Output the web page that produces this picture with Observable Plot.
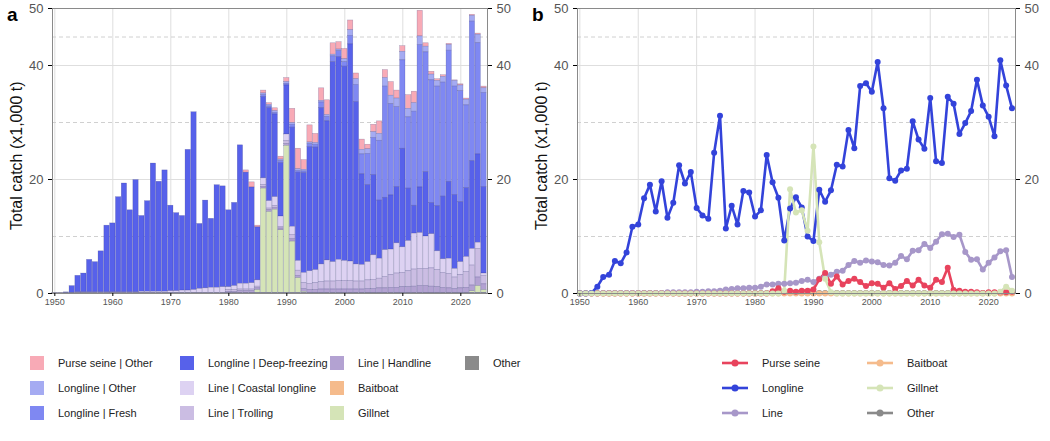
<!DOCTYPE html>
<html><head><meta charset="utf-8">
<script src="https://cdn.jsdelivr.net/npm/d3@7"></script>
<script src="https://cdn.jsdelivr.net/npm/@observablehq/plot@0.6"></script>
<style>
body{margin:0;background:#fff;font-family:Arial,"Liberation Sans",sans-serif;}
#wrap{position:relative;width:1050px;height:441px;}
.panel{position:absolute;top:0;}
.tag{position:absolute;font-weight:bold;font-size:19px;color:#000;}
.ylab{position:absolute;font-size:16px;color:#111;transform:rotate(-90deg);transform-origin:left top;white-space:nowrap;}
.leg{position:absolute;font-size:11px;color:#222;display:flex;align-items:center;white-space:nowrap;}
.sw{width:14px;height:14px;margin-right:14px;}
</style></head><body>
<div id="wrap"></div>
<script>
const years = d3.range(1950, 2025);
const longline = [0,0,0.1,1.2,2.9,3.3,5.7,5.3,7.2,11.7,
12.1,16.7,19.1,14.4,19.7,13.3,15.9,22.5,19.3,21.3,
15.0,13.7,13.1,24.7,31.2,11.4,15.4,12.1,18.0,17.7,
13.5,14.6,24.3,19.5,16.8,9.3,14.9,16.9,15.1,10.0,
9.2,18.2,16.1,18.1,22.6,22.3,28.7,25.5,36.4,36.9,
35.4,40.6,32.5,20.2,19.8,21.6,21.9,30.2,27.0,25.4,
34.3,23.2,22.9,34.5,33.3,28.0,29.9,32.0,37.5,33.0,
31.0,27.6,40.9,36.5,32.5];
const longlineFresh = [0,0,0,0,0,0,0,0,0,0, 0,0,0,0,0,0,0,0,0,0, 0,0,0,0,0,0,0,0,0,0, 0,0,0,0,0,
0,0.3,0.3,0.3,0.3,0.3,0.5,0.3,0.3,0.5,0.5,1.0,0.8,1.0,1.0,0.8,1.5,3.0,3.5,5.5,6.5,10.5,19.5,16.0,14.0,15.5,12.5,16.5,25.0,21.0,21.5,21.0,20.0,23.0,19.0,19.5,14.5,24.5,19.5,16.5];
const longlineOther = [0,0,0,0,0,0,0,0,0,0, 0,0,0,0,0,0,0,0,0,0, 0,0,0,0,0,0,0,0,0,0, 0,0,0,0,0,0,
0.3,0.3,0.3,0.3,0.3,0.3,0.3,0.3,0.3,0.3,0.3,0.3,0.3,0.3,
0.5,1.0,1.0,0.8,0.8,1.0,1.2,
1.5,1.5,1.5,1.5,1.5,1.5,1.5,1.0,1.0,1.0,1.0,1.0,1.0,1.0,1.0,1.0,1.5,0.8];
const line = [0,0,0,0,0.1,0.1,0.1,0.1,0.1,0.1,
0.1,0.1,0.1,0.1,0.1,0.2,0.2,0.2,0.2,0.2,
0.3,0.3,0.4,0.4,0.5,0.7,0.8,0.9,0.9,1.0,
1.0,1.2,1.6,1.6,1.7,1.7,1.8,1.9,2.2,2.4,
2.0,2.6,3.0,3.3,3.8,4.0,5.0,5.7,5.4,5.8,
5.6,5.5,5.0,4.9,5.4,6.6,6.0,7.5,7.6,8.7,
8.0,9.1,10.4,10.5,9.9,10.3,7.3,5.9,6.0,4.2,
5.4,6.3,7.4,7.6,2.9];
const lineHandline = [0,0,0,0,0,0,0,0,0,0, 0,0,0,0,0,0,0,0,0,0, 0,0,0,0,0,0,0,0,0,0,
0.2,0.2,0.3,0.3,0.3,0.3,0.3,0.3,0.3,0.3,
0.3,0.4,0.4,0.5,0.5,0.5,0.6,0.6,0.6,0.6,
0.6,0.6,0.6,0.6,0.7,0.7,0.8,0.8,0.9,0.9,
1.0,1.0,1.1,1.2,1.2,1.1,1.0,0.9,0.8,0.7,
0.8,0.9,1.0,1.5,1.0];
const lineTrolling = [0,0,0,0,0,0,0,0,0,0, 0,0,0,0,0,0,0,0,0,0, 0,0,0,0,0,0,0,0,0,0,
0.3,0.3,0.3,0.3,0.3,0.3,0.3,0.3,0.3,0.3,
0.5,0.8,0.9,1.0,1.1,1.2,1.3,1.4,1.4,1.5,
1.5,1.5,1.4,1.4,1.5,1.6,1.7,2.0,2.2,2.5,
2.5,2.8,3.0,3.0,3.0,3.2,3.0,2.6,2.5,2.0,
2.3,2.8,3.5,5.0,1.5];
const purseSeine = [0,0,0,0,0,0,0,0,0,0, 0,0,0,0,0,0,0,0,0,0, 0,0,0,0,0,0,0,0,0,0,
0,0,0,0.4,0.9,0.3,0.5,0.3,0.5,0.5,
0.7,2.5,3.6,1.7,3.0,1.6,2.2,2.6,2.0,1.3,
1.8,1.7,1.0,1.8,0.8,1.3,2.2,1.4,2.4,1.4,
1.0,2.4,2.0,4.5,0.6,0.5,0.3,0.3,0.2,0.1,
0.2,0.2,0.2,0.2,0.3];
const gillnet = [0,0,0,0,0,0,0,0,0,0, 0,0,0,0,0,0,0,0,0,0, 0,0,0,0,0,0,0,0,0,0,
0,0,0,0,0,0.5,18.3,14.2,14.6,11.0,
25.8,9.0,2.6,0.2,0,0,0,0,0,0,
0,0,0,0,0,0,0,0,0,0, 0,0,0,0,0,0,0,0,0,0,
0,0,0.3,1.2,0.5];
const baitboat = years.map(() => 0);
const other = [0.1,0.1,0.1,0.1,0.1,0.1,0.1,0.1,0.1,0.1, 0.1,0.1,0.1,0.1,0.1,0.1,0.1,0.1,0.1,0.1,
0.1,0.1,0.1,0.1,0.1,0.1,0.1,0.1,0.1,0.1, 0.1,0.1,0.1,0.1,0.1,0.1,0.1,0.1,0.1,0.1,
0.1,0.1,0.1,0.1,0.1,0.1,0.1,0.1,0.1,0.1, 0.1,0.1,0.1,0.1,0.1,0.1,0.1,0.1,0.1,0.1,
0.1,0.1,0.1,0.1,0.1,0.1,0.1,0.1,0.1,0.1, 0.1,0.1,0.1,0.1,0.1];

const gearsA = ["Purse seine | Other","Longline | Other","Longline | Fresh","Longline | Deep-freezing","Line | Coastal longline","Line | Trolling","Line | Handline","Baitboat","Gillnet","Other"];
const colorsA = ["#f8aab6","#a5abf2","#7f88f2","#5761ea","#ddd2f2","#cbbde3","#b3a2d2","#f5bb8c","#d5e4b7","#8a8a8a"];
const gearsB = ["Purse seine","Longline","Line","Baitboat","Gillnet","Other"];
const colorsB = ["#e8435d","#3343da","#a797c9","#f5bb8c","#d5e4b7","#8a8a8a"];

const rowsA = [];
years.forEach((yr, i) => {
  const vals = {
    "Purse seine | Other": purseSeine[i],
    "Longline | Other": longlineOther[i],
    "Longline | Fresh": longlineFresh[i],
    "Longline | Deep-freezing": longline[i] - longlineFresh[i] - longlineOther[i],
    "Line | Coastal longline": line[i] - lineHandline[i] - lineTrolling[i],
    "Line | Trolling": lineTrolling[i],
    "Line | Handline": lineHandline[i],
    "Baitboat": baitboat[i],
    "Gillnet": gillnet[i],
    "Other": other[i]
  };
  for (const g of gearsA) rowsA.push({year: yr, gear: g, value: vals[g]});
});
const seriesB = {"Purse seine": purseSeine, "Longline": longline, "Line": line, "Baitboat": baitboat, "Gillnet": gillnet, "Other": other};
const drawOrderB = ["Other","Baitboat","Line","Purse seine","Longline","Gillnet"];
const rowsB = [];
for (const g of drawOrderB) years.forEach((yr, i) => rowsB.push({year: yr, gear: g, value: seriesB[g][i]}));

const xTicks = [1950,1960,1970,1980,1990,2000,2010,2020];
function base(marks, mr) {
  return Plot.plot({
    width: 525, height: 310,
    marginLeft: 52, marginRight: mr, marginTop: 8, marginBottom: 17,
    style: {fontFamily: "Arial, Liberation Sans, sans-serif", background: "#fff"},
    x: {domain: [1949.6, 2024.6], label: null},
    y: {domain: [0, 50], label: null},
    marks: [
      Plot.ruleX(xTicks, {stroke: "#dedede"}),
      Plot.ruleY([20, 40], {stroke: "#dedede"}),
      Plot.ruleY([10, 30, 45], {stroke: "#d0d0d0", strokeDasharray: "4,3"}),
      ...marks,
      Plot.frame({stroke: "#8a8a8a"}),
      Plot.axisX({ticks: xTicks, tickFormat: d => String(d), tickSize: 3, fontSize: 9, fill: "#555", stroke: "#555", label: null, tickPadding: 2}),
      Plot.axisY({anchor: "left", ticks: [0, 20, 40, 50], tickSize: 4, fontSize: 13, fill: "#555", label: null}),
      Plot.axisY({anchor: "right", ticks: [0, 20, 40, 50], tickSize: 4, fontSize: 13, fill: "#555", label: null})
    ]
  });
}
const plotA = base([
  Plot.rectY(rowsA, Plot.stackY({
    x1: d => d.year - 0.46, x2: d => d.year + 0.46, y: "value", fill: "gear",
    order: gearsA.slice().reverse(),
    stroke: "rgba(40,40,110,0.35)", strokeWidth: 0.5
  }))
], 38);
plotA.setAttribute("fill-opacity","1");
const colorB = d3.scaleOrdinal(gearsB, colorsB);
const plotB = base([
  Plot.line(rowsB, {x: "year", y: "value", z: "gear", stroke: d => colorB(d.gear), strokeWidth: 2.6}),
  Plot.dot(rowsB, {x: "year", y: "value", fill: d => colorB(d.gear), r: 3})
], 35);

// apply color scale for A
const plotA2 = Plot.plot({
  width: 525, height: 310,
  marginLeft: 52, marginRight: 38, marginTop: 8, marginBottom: 17,
  style: {fontFamily: "Arial, Liberation Sans, sans-serif", background: "#fff"},
  x: {domain: [1949.6, 2024.6], label: null},
  y: {domain: [0, 50], label: null},
  color: {domain: gearsA, range: colorsA},
  marks: [
    Plot.ruleX(xTicks, {stroke: "#dedede"}),
    Plot.ruleY([20, 40], {stroke: "#dedede"}),
    Plot.ruleY([10, 30, 45], {stroke: "#d0d0d0", strokeDasharray: "4,3"}),
    Plot.rectY(rowsA, Plot.stackY({
      x1: d => d.year - 0.46, x2: d => d.year + 0.46, y: "value", fill: "gear",
      order: gearsA.slice().reverse(),
      stroke: "rgba(40,40,110,0.35)", strokeWidth: 0.5
    })),
    Plot.frame({stroke: "#8a8a8a"}),
    Plot.axisX({ticks: xTicks, tickFormat: d => String(d), tickSize: 3, fontSize: 9, fill: "#555", label: null, tickPadding: 2}),
    Plot.axisY({anchor: "left", ticks: [0, 20, 40, 50], tickSize: 4, fontSize: 13, fill: "#555", label: null}),
    Plot.axisY({anchor: "right", ticks: [0, 20, 40, 50], tickSize: 4, fontSize: 13, fill: "#555", label: null})
  ]
});

const wrap = document.getElementById("wrap");
function place(node, left) { const d = document.createElement("div"); d.className = "panel"; d.style.left = left + "px"; d.appendChild(node); wrap.appendChild(d); }
place(plotA2, 0);
place(plotB, 525);
function html(cls, text, x, y) { const d = document.createElement("div"); d.className = cls; d.textContent = text; d.style.left = x + "px"; d.style.top = y + "px"; wrap.appendChild(d); return d; }
html("tag", "a", 7, 4);
html("tag", "b", 532, 4);
html("ylab", "Total catch (x1,000 t)", 8, 230);
html("ylab", "Total catch (x1,000 t)", 533, 230);

const colX = [30, 180, 330, 465];
const rowY = [356, 381, 406];
gearsA.forEach((g, i) => {
  const c = Math.floor(i / 3), r = i % 3;
  const d = document.createElement("div"); d.className = "leg";
  d.style.left = colX[c] + "px"; d.style.top = rowY[r] + "px";
  d.innerHTML = `<div class="sw" style="background:${colorsA[i]}"></div><span>${g}</span>`;
  wrap.appendChild(d);
});
const colXB = [720, 865];
gearsB.forEach((g, i) => {
  const c = Math.floor(i / 3), r = i % 3;
  const d = document.createElement("div"); d.className = "leg";
  d.style.left = colXB[c] + "px"; d.style.top = (rowY[r] - 1) + "px";
  d.innerHTML = `<svg width="30" height="16" style="margin-right:12px"><line x1="2" y1="8" x2="28" y2="8" stroke="${colorsB[i]}" stroke-width="2.6"/><circle cx="15" cy="8" r="3.5" fill="${colorsB[i]}"/></svg><span>${g}</span>`;
  wrap.appendChild(d);
});
</script>
</body></html>
